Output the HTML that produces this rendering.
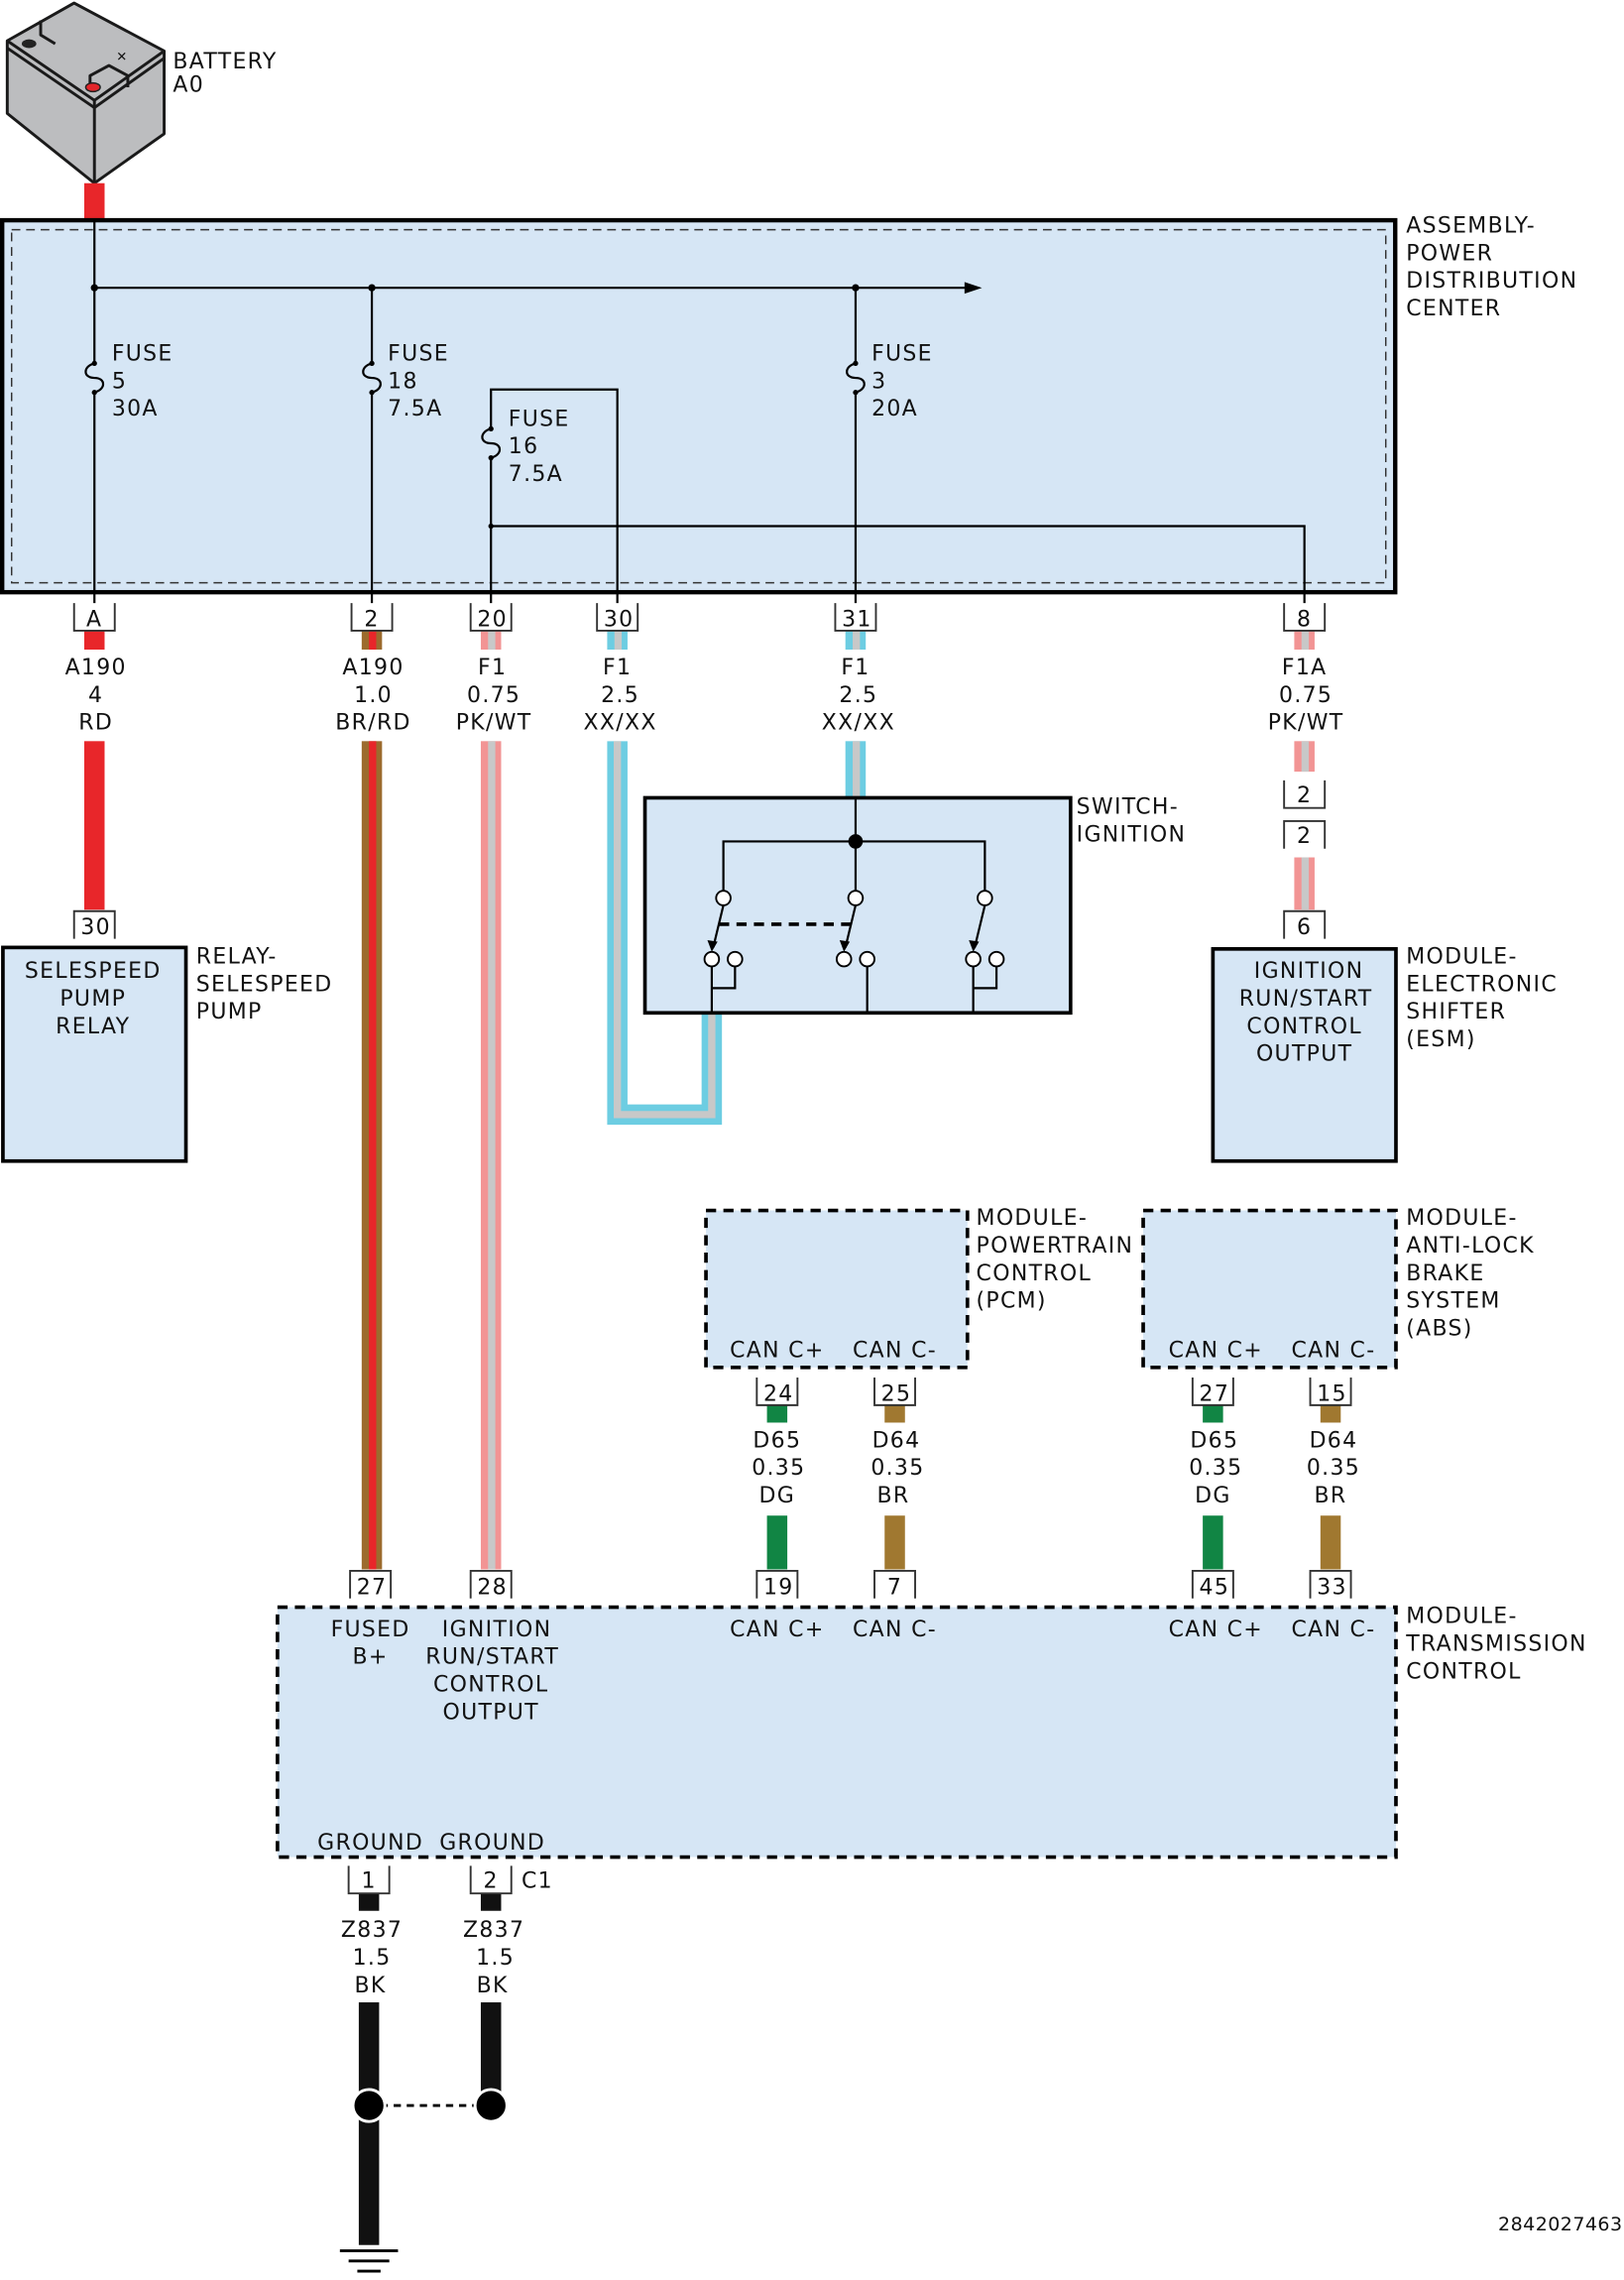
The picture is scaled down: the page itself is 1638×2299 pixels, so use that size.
<!DOCTYPE html>
<html><head><meta charset="utf-8"><style>
html,body{margin:0;padding:0;background:#fff}
svg{display:block}
text{font-family:"DejaVu Sans","Liberation Sans",sans-serif;font-size:15px;fill:#111;letter-spacing:0.9px}
.m{text-anchor:middle}
</style></head><body>
<svg width="1638" height="2299" viewBox="0 0 1118 1569" xmlns="http://www.w3.org/2000/svg">
<!-- battery -->
<g stroke="#1a1a1a" stroke-width="2" stroke-linejoin="round" fill="#bcbdbf">
<polygon points="5,28 51,2 113,35 113,92 65,126 5,78"/>
<polyline fill="none" points="5,28 65,69 113,35"/>
<line x1="65" y1="69" x2="65" y2="126"/>
<polyline fill="none" points="5,33 65,74 113,40"/>
<polyline fill="none" points="28,14 28,24 38,30"/>
<polyline fill="none" points="62,61 62,52 75,45 88,52 88,60"/>
</g>
<ellipse cx="20" cy="30" rx="5" ry="3" fill="#222"/>
<ellipse cx="64" cy="60" rx="5" ry="3" fill="#e3262a" stroke="#222"/>
<text x="80" y="42" style="font-size:9px">✕</text>
<text x="119" y="47">BATTERY</text><text x="119" y="63">A0</text>
<rect x="58" y="126" width="14" height="26" fill="#e8262a"/>

<!-- PDC -->
<rect x="1.5" y="151.5" width="959" height="256" fill="#d6e6f5" stroke="#000" stroke-width="3"/>
<rect x="8" y="158" width="946" height="243" fill="none" stroke="#333" stroke-width="1" stroke-dasharray="6,4"/>
<g stroke="#000" stroke-width="1.5" fill="none">
<line x1="65" y1="198" x2="668" y2="198"/>
<line x1="65" y1="152" x2="65" y2="250"/><line x1="65" y1="270" x2="65" y2="415"/>
<path d="M65 250 C57 252 57 260 65 260 C73 260 73 268 65 270"/>
<line x1="256" y1="198" x2="256" y2="250"/><line x1="256" y1="270" x2="256" y2="415"/>
<path d="M256 250 C248 252 248 260 256 260 C264 260 264 268 256 270"/>
<line x1="589" y1="198" x2="589" y2="250"/><line x1="589" y1="270" x2="589" y2="415"/>
<path d="M589 250 C581 252 581 260 589 260 C597 260 597 268 589 270"/>
<polyline points="338,295 338,268 425,268 425,415"/>
<line x1="338" y1="315" x2="338" y2="415"/>
<path d="M338 295 C330 297 330 305 338 305 C346 305 346 313 338 315"/>
<polyline points="338,362 898,362 898,415"/>
</g>
<polygon points="676,198 664,194 664,202" fill="#000"/>
<g fill="#000"><circle cx="65" cy="198" r="2.5"/><circle cx="256" cy="198" r="2.5"/><circle cx="589" cy="198" r="2.5"/>
<circle cx="65" cy="250" r="1.8"/><circle cx="65" cy="270" r="1.8"/><circle cx="256" cy="250" r="1.8"/><circle cx="256" cy="270" r="1.8"/>
<circle cx="589" cy="250" r="1.8"/><circle cx="589" cy="270" r="1.8"/><circle cx="338" cy="295" r="1.8"/><circle cx="338" cy="315" r="1.8"/><circle cx="338" cy="362" r="1.8"/></g>
<text x="77" y="248">FUSE</text><text x="77" y="267">5</text><text x="77" y="286">30A</text>
<text x="267" y="248">FUSE</text><text x="267" y="267">18</text><text x="267" y="286">7.5A</text>
<text x="600" y="248">FUSE</text><text x="600" y="267">3</text><text x="600" y="286">20A</text>
<text x="350" y="293">FUSE</text><text x="350" y="312">16</text><text x="350" y="331">7.5A</text>
<text x="968" y="160">ASSEMBLY-</text><text x="968" y="179">POWER</text><text x="968" y="198">DISTRIBUTION</text><text x="968" y="217">CENTER</text>

<!-- wires -->
<g>
<rect x="58" y="434" width="14" height="13" fill="#e8262a"/><rect x="58" y="510" width="14" height="116" fill="#e8262a"/>
<rect x="249" y="434" width="14" height="13" fill="#9c6b2e"/><rect x="254" y="434" width="5" height="13" fill="#e8262a"/>
<rect x="249" y="510" width="14" height="570" fill="#9c6b2e"/><rect x="254" y="510" width="5" height="570" fill="#e8262a"/>
<rect x="331" y="434" width="14" height="13" fill="#f29494"/><rect x="336" y="434" width="5" height="13" fill="#c8c8c8"/>
<rect x="331" y="510" width="14" height="570" fill="#f29494"/><rect x="336" y="510" width="5" height="570" fill="#c8c8c8"/>
<rect x="418" y="434" width="14" height="13" fill="#6dcde2"/><rect x="423" y="434" width="5" height="13" fill="#c8c8c8"/>
<polyline points="425,510 425,767 490,767 490,697" fill="none" stroke="#6dcde2" stroke-width="14"/>
<polyline points="425,510 425,767 490,767 490,697" fill="none" stroke="#c8c8c8" stroke-width="5"/>
<rect x="582" y="434" width="14" height="13" fill="#6dcde2"/><rect x="587" y="434" width="5" height="13" fill="#c8c8c8"/>
<rect x="582" y="510" width="14" height="40" fill="#6dcde2"/><rect x="587" y="510" width="5" height="40" fill="#c8c8c8"/>
<rect x="891" y="434" width="14" height="13" fill="#f29494"/><rect x="896" y="434" width="5" height="13" fill="#c8c8c8"/>
<rect x="891" y="510" width="14" height="21" fill="#f29494"/><rect x="896" y="510" width="5" height="21" fill="#c8c8c8"/>
<rect x="891" y="590" width="14" height="36" fill="#f29494"/><rect x="896" y="590" width="5" height="36" fill="#c8c8c8"/>
<rect x="528" y="967" width="14" height="12" fill="#118544"/><rect x="528" y="1043" width="14" height="37" fill="#118544"/>
<rect x="609" y="967" width="14" height="12" fill="#a07830"/><rect x="609" y="1043" width="14" height="37" fill="#a07830"/>
<rect x="828" y="967" width="14" height="12" fill="#118544"/><rect x="828" y="1043" width="14" height="37" fill="#118544"/>
<rect x="909" y="967" width="14" height="12" fill="#a07830"/><rect x="909" y="1043" width="14" height="37" fill="#a07830"/>
<rect x="247" y="1303" width="14" height="12" fill="#111"/><rect x="247" y="1378" width="14" height="167" fill="#111"/>
<rect x="331" y="1303" width="14" height="12" fill="#111"/><rect x="331" y="1378" width="14" height="70" fill="#111"/>
</g>

<!-- connectors -->
<g stroke="#333" stroke-width="1.3" fill="none">
<path d="M51 415V434H79V415"/><path d="M242 415V434H270V415"/><path d="M324 415V434H352V415"/>
<path d="M411 415V434H439V415"/><path d="M575 415V434H603V415"/><path d="M884 415V434H912V415"/>
<path d="M884 537V556H912V537"/><path d="M884 584V565H912V584"/>
<path d="M51 646V627H79V646"/><path d="M884 646V627H912V646"/>
<path d="M521 948V967H549V948"/><path d="M602 948V967H630V948"/>
<path d="M821 948V967H849V948"/><path d="M902 948V967H930V948"/>
<path d="M241 1100V1081H269V1100"/><path d="M324 1100V1081H352V1100"/>
<path d="M521 1100V1081H549V1100"/><path d="M602 1100V1081H630V1100"/>
<path d="M821 1100V1081H849V1100"/><path d="M902 1100V1081H930V1100"/>
<path d="M240 1284V1303H268V1284"/><path d="M324 1284V1303H352V1284"/>
</g>
<g>
<text class="m" x="65" y="431">A</text><text class="m" x="256" y="431">2</text><text class="m" x="339" y="431">20</text>
<text class="m" x="426" y="431">30</text><text class="m" x="590" y="431">31</text><text class="m" x="898" y="431">8</text>
<text class="m" x="898" y="552">2</text><text class="m" x="898" y="580">2</text>
<text class="m" x="66" y="643">30</text><text class="m" x="898" y="643">6</text>
<text class="m" x="536" y="964">24</text><text class="m" x="617" y="964">25</text><text class="m" x="836" y="964">27</text><text class="m" x="917" y="964">15</text>
<text class="m" x="256" y="1097">27</text><text class="m" x="339" y="1097">28</text><text class="m" x="536" y="1097">19</text><text class="m" x="616" y="1097">7</text>
<text class="m" x="836" y="1097">45</text><text class="m" x="917" y="1097">33</text>
<text class="m" x="254" y="1299">1</text><text class="m" x="338" y="1299">2</text>
</g>
<text x="359" y="1299">C1</text>

<!-- wire labels -->
<text class="m" x="66" y="464">A190</text><text class="m" x="66" y="483">4</text><text class="m" x="66" y="502">RD</text>
<text class="m" x="257" y="464">A190</text><text class="m" x="257" y="483">1.0</text><text class="m" x="257" y="502">BR/RD</text>
<text class="m" x="339" y="464">F1</text><text class="m" x="340" y="483">0.75</text><text class="m" x="340" y="502">PK/WT</text>
<text class="m" x="425" y="464">F1</text><text class="m" x="427" y="483">2.5</text><text class="m" x="427" y="502">XX/XX</text>
<text class="m" x="589" y="464">F1</text><text class="m" x="591" y="483">2.5</text><text class="m" x="591" y="502">XX/XX</text>
<text class="m" x="898" y="464">F1A</text><text class="m" x="899" y="483">0.75</text><text class="m" x="899" y="502">PK/WT</text>
<text class="m" x="535" y="996">D65</text><text class="m" x="536" y="1015">0.35</text><text class="m" x="535" y="1034">DG</text>
<text class="m" x="617" y="996">D64</text><text class="m" x="618" y="1015">0.35</text><text class="m" x="615" y="1034">BR</text>
<text class="m" x="836" y="996">D65</text><text class="m" x="837" y="1015">0.35</text><text class="m" x="835" y="1034">DG</text>
<text class="m" x="918" y="996">D64</text><text class="m" x="918" y="1015">0.35</text><text class="m" x="916" y="1034">BR</text>
<text class="m" x="256" y="1333">Z837</text><text class="m" x="256" y="1352">1.5</text><text class="m" x="255" y="1371">BK</text>
<text class="m" x="340" y="1333">Z837</text><text class="m" x="341" y="1352">1.5</text><text class="m" x="339" y="1371">BK</text>

<!-- relay -->
<rect x="2" y="652" width="126" height="147" fill="#d6e6f5" stroke="#000" stroke-width="2.5"/>
<text class="m" x="64" y="673">SELESPEED</text><text class="m" x="64" y="692">PUMP</text><text class="m" x="64" y="711">RELAY</text>
<text x="135" y="663">RELAY-</text><text x="135" y="682">SELESPEED</text><text x="135" y="701">PUMP</text>

<!-- switch -->
<rect x="444" y="549" width="293" height="148" fill="#d6e6f5" stroke="#000" stroke-width="2.5"/>
<g stroke="#000" stroke-width="1.5" fill="none">
<line x1="589" y1="550" x2="589" y2="613"/>
<polyline points="498,613 498,579 678,579 678,613"/>
<line x1="498" y1="623" x2="491" y2="652"/><line x1="589" y1="623" x2="582" y2="652"/><line x1="678" y1="623" x2="671" y2="652"/>
<polyline points="490,665 490,697"/><polyline points="490,680 506,680 506,665"/>
<line x1="597" y1="665" x2="597" y2="697"/>
<polyline points="670,665 670,697"/><polyline points="670,680 686,680 686,665"/>
</g>
<line x1="495" y1="636" x2="586" y2="636" stroke="#000" stroke-width="2.5" stroke-dasharray="7,5"/>
<circle cx="589" cy="579" r="5" fill="#000"/>
<g fill="#000"><polygon points="490,655 487,647 494,648"/><polygon points="581,655 578,647 585,648"/><polygon points="670,655 667,647 674,648"/></g>
<g fill="#fff" stroke="#000" stroke-width="1.3">
<circle cx="498" cy="618" r="5"/><circle cx="589" cy="618" r="5"/><circle cx="678" cy="618" r="5"/>
<circle cx="490" cy="660" r="5"/><circle cx="506" cy="660" r="5"/><circle cx="581" cy="660" r="5"/><circle cx="597" cy="660" r="5"/>
<circle cx="670" cy="660" r="5"/><circle cx="686" cy="660" r="5"/></g>
<text x="741" y="560">SWITCH-</text><text x="741" y="579">IGNITION</text>

<!-- ESM -->
<rect x="835" y="653" width="126" height="146" fill="#d6e6f5" stroke="#000" stroke-width="2.5"/>
<text class="m" x="901" y="673">IGNITION</text><text class="m" x="899" y="692">RUN/START</text><text class="m" x="898" y="711">CONTROL</text><text class="m" x="898" y="730">OUTPUT</text>
<text x="968" y="663">MODULE-</text><text x="968" y="682">ELECTRONIC</text><text x="968" y="701">SHIFTER</text><text x="968" y="720">(ESM)</text>

<!-- PCM, ABS -->
<rect x="486" y="833" width="180" height="108" fill="#d6e6f5" stroke="#000" stroke-width="2.5" stroke-dasharray="7,5"/>
<rect x="787" y="833" width="174" height="108" fill="#d6e6f5" stroke="#000" stroke-width="2.5" stroke-dasharray="7,5"/>
<text class="m" x="535" y="934">CAN C+</text><text class="m" x="616" y="934">CAN C-</text>
<text class="m" x="837" y="934">CAN C+</text><text class="m" x="918" y="934">CAN C-</text>
<text x="672" y="843">MODULE-</text><text x="672" y="862">POWERTRAIN</text><text x="672" y="881">CONTROL</text><text x="672" y="900">(PCM)</text>
<text x="968" y="843">MODULE-</text><text x="968" y="862">ANTI-LOCK</text><text x="968" y="881">BRAKE</text><text x="968" y="900">SYSTEM</text><text x="968" y="919">(ABS)</text>

<!-- TCM -->
<rect x="191" y="1106" width="770" height="172" fill="#d6e6f5" stroke="#000" stroke-width="2.5" stroke-dasharray="7,5"/>
<text class="m" x="255" y="1126">FUSED</text><text class="m" x="255" y="1145">B+</text>
<text class="m" x="342" y="1126">IGNITION</text><text class="m" x="339" y="1145">RUN/START</text><text class="m" x="338" y="1164">CONTROL</text><text class="m" x="338" y="1183">OUTPUT</text>
<text class="m" x="535" y="1126">CAN C+</text><text class="m" x="616" y="1126">CAN C-</text>
<text class="m" x="837" y="1126">CAN C+</text><text class="m" x="918" y="1126">CAN C-</text>
<text class="m" x="255" y="1273">GROUND</text><text class="m" x="339" y="1273">GROUND</text>
<text x="968" y="1117">MODULE-</text><text x="968" y="1136">TRANSMISSION</text><text x="968" y="1155">CONTROL</text>

<!-- ground splice -->
<line x1="262" y1="1449" x2="330" y2="1449" stroke="#000" stroke-width="2" stroke-dasharray="5,4"/>
<circle cx="254" cy="1449" r="11" fill="#000" stroke="#fff" stroke-width="2"/>
<circle cx="338" cy="1449" r="11" fill="#000" stroke="#fff" stroke-width="2"/>
<g stroke="#000" stroke-width="2"><line x1="234" y1="1549" x2="274" y2="1549"/><line x1="240" y1="1556" x2="268" y2="1556"/><line x1="246" y1="1563" x2="262" y2="1563"/></g>
<text x="1117" y="1535" style="font-size:13px;text-anchor:end;letter-spacing:0.3px">2842027463</text>
</svg>
</body></html>
